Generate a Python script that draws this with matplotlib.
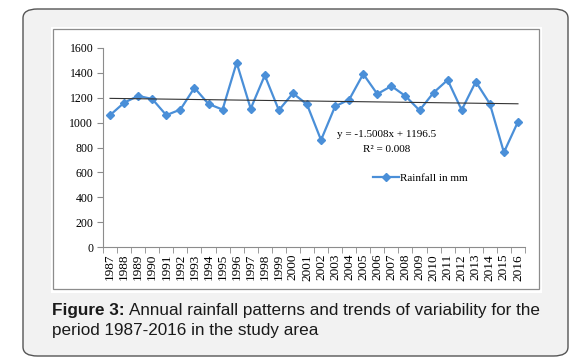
import numpy as np
import matplotlib
matplotlib.use("Agg")
import matplotlib.pyplot as plt
from matplotlib.patches import FancyBboxPatch, Rectangle

years = [str(y) for y in range(1987, 2017)]
rainfall = [1060, 1160, 1215, 1190, 1060, 1105, 1280, 1150, 1105, 1482,
            1112, 1380, 1100, 1236, 1147, 860, 1131, 1185, 1391, 1230,
            1294, 1214, 1099, 1241, 1343, 1101, 1329, 1152, 761, 1007]
trend_slope = -1.5008
trend_icept = 1196.5
yticks = [0, 200, 400, 600, 800, 1000, 1200, 1400, 1600]

W, H = 578, 362
fig = plt.figure(figsize=(W / 100, H / 100), dpi=100)
fig.patch.set_facecolor("white")

# outer rounded caption box + white chart area
box = FancyBboxPatch((23 / W, 1 - 356 / H), (568 - 23) / W, (356 - 9) / H,
                     boxstyle="round,pad=0,rounding_size=0.025",
                     transform=fig.transFigure, facecolor="#f2f2f2",
                     edgecolor="#555555", linewidth=1.0, zorder=-3)
fig.patches.append(box)
fig.patches.append(Rectangle((51 / W, 1 - 293 / H), (542 - 51) / W, (293 - 27) / H,
                             transform=fig.transFigure, facecolor="white",
                             edgecolor="none", zorder=-2))
fig.patches.append(Rectangle((53 / W, 1 - 289 / H), (539 - 53) / W, (289 - 29) / H,
                             transform=fig.transFigure, facecolor="none",
                             edgecolor="#8c8c8c", linewidth=0.9, zorder=-1))

ax = fig.add_axes([103 / W, 1 - 247 / H, (525 - 103) / W, (247 - 48) / H])
ax.set_zorder(2)
ax.set_facecolor("none")
x = np.arange(1, len(years) + 1)
ax.plot(x, rainfall, color="#4a8fd8", lw=1.6, marker="D", ms=3.8,
        label="Rainfall in mm")
tx = np.array([x[0], x[-1]])
ax.plot(tx, trend_slope * tx + trend_icept, color="#333333", lw=0.8)

ax.set_xlim(0.5, len(years) + 0.5)
ax.set_ylim(0, 1600)
ax.set_yticks(yticks)
ax.set_yticklabels([str(v) for v in yticks], fontfamily="Liberation Serif",
                   fontsize=8.5)
ax.set_xticks(x)
ax.set_xticklabels(years, rotation=90, fontfamily="Liberation Serif",
                   fontsize=9.5)
ax.set_xticks(np.arange(0.5, len(years) + 1), minor=True)
ax.tick_params(axis="x", which="major", length=0, pad=5)
ax.tick_params(axis="x", which="minor", length=4, color="#8c8c8c")
ax.tick_params(axis="y", length=4, color="#8c8c8c", pad=3)
for s in ["top", "right"]:
    ax.spines[s].set_visible(False)
for s in ["left", "bottom"]:
    ax.spines[s].set_color("#8c8c8c")
    ax.spines[s].set_linewidth(0.8)

fig.text(387 / W, 1 - 134 / H, "y = -1.5008x + 1196.5",
         ha="center", va="center", fontfamily="Liberation Serif", fontsize=8)
fig.text(387 / W, 1 - 149 / H, "R\u00b2 = 0.008",
         ha="center", va="center", fontfamily="Liberation Serif", fontsize=8)
ax.legend(loc="center left", bbox_to_anchor=(369 / W, 1 - 178 / H),
          bbox_transform=fig.transFigure, frameon=False, handlelength=2.3,
          handletextpad=0.05, borderaxespad=0,
          prop={"family": "Liberation Serif", "size": 8})

# caption
cap_size = 12.3
bold = fig.text(52 / W, 1 - 310 / H, "Figure 3:", fontfamily="Liberation Sans",
                fontweight="bold", fontsize=cap_size, va="center", color="#1a1a1a")
fig.canvas.draw()
bb = bold.get_window_extent(fig.canvas.get_renderer())
fig.text(bb.x1 / W + 4 / W, 1 - 310 / H,
         "Annual rainfall patterns and trends of variability for the",
         fontfamily="Liberation Sans", fontsize=cap_size, va="center",
         color="#1a1a1a")
fig.text(52 / W, 1 - 331 / H, "period 1987-2016 in the study area",
         fontfamily="Liberation Sans", fontsize=cap_size, va="center",
         color="#1a1a1a")

fig.savefig("out.png", dpi=100)
